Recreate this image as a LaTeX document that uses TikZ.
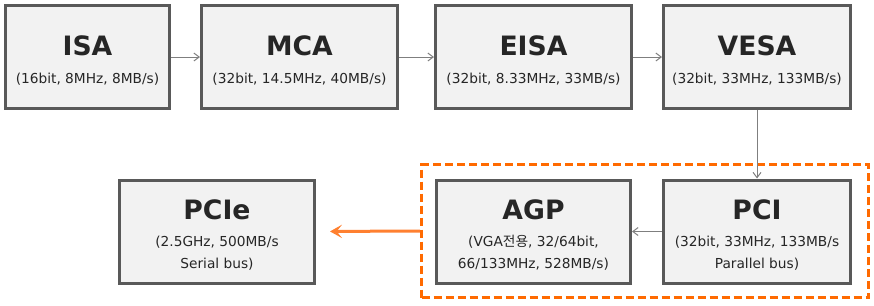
\documentclass[tikz,border=0pt]{standalone}
\usepackage{fontspec}
\setmainfont{DejaVu Sans}
\newfontfamily\krfont{Noto Sans CJK KR}
\usetikzlibrary{arrows.meta,positioning}

\definecolor{boxline}{HTML}{595959}
\definecolor{boxfill}{HTML}{F2F2F2}
\definecolor{boxtext}{HTML}{262626}
\definecolor{linkgray}{HTML}{7F7F7F}
\definecolor{hiorange}{HTML}{FF6A00}
\definecolor{arrorange}{HTML}{FF8030}

\newcommand{\busname}[1]{{\fontsize{20}{22}\selectfont\bfseries\rule{0pt}{20pt}#1}}

\tikzset{
  busbox/.style={draw=boxline, fill=boxfill, line width=2.25pt, text=boxtext,
    align=center, inner sep=0pt, minimum height=103*0.75pt,
    font=\fontsize{10.3}{16.5}\selectfont},
  link/.style={draw=linkgray, line width=0.75pt, -{Straight Barb[length=4pt,width=6pt]}},
  groupbox/.style={draw=hiorange, line width=2.25pt, dash pattern=on 6pt off 3pt,
    inner sep=0pt, minimum width=447*0.75pt, minimum height=133*0.75pt},
  biglink/.style={draw=arrorange, line width=2.25pt,
    -{Stealth[length=9pt,width=10pt,inset=4pt]}, shorten >=10.5pt}
}

\begin{document}
\begin{tikzpicture}[x=0.75pt, y=-0.75pt]
  \useasboundingbox (0,0) rectangle (874,305);
  % top row
  \node[busbox, minimum width=164*0.75pt] (isa) at (87.5,57)
    {\busname{ISA}\\[4pt](16bit, 8MHz, 8MB/s)};
  \node[busbox, minimum width=196*0.75pt] (mca) at (299.5,57)
    {\busname{MCA}\\[4pt](32bit, 14.5MHz, 40MB/s)};
  \node[busbox, minimum width=196*0.75pt] (eisa) at (533.5,57)
    {\busname{EISA}\\[4pt](32bit, 8.33MHz, 33MB/s)};
  \node[busbox, minimum width=187*0.75pt] (vesa) at (757,57)
    {\busname{VESA}\\[4pt](32bit, 33MHz, 133MB/s)};
  % bottom row
  \node[groupbox] (grp) at (645,231) {};
  \node[busbox, minimum width=187*0.75pt] (pci) at (757,231.5)
    {\busname{PCI}\\[4pt](32bit, 33MHz, 133MB/s\\Parallel bus)};
  \node[busbox, minimum width=194*0.75pt] (agp) at (533.5,231.5)
    {\busname{AGP}\\[4pt](VGA{\krfont 전용}, 32/64bit,\\66/133MHz, 528MB/s)};
  \node[busbox, minimum width=195*0.75pt] (pcie) at (217,231.5)
    {\busname{PCIe}\\[4pt](2.5GHz, 500MB/s\\Serial bus)};
  % links
  \draw[link] (isa) -- (mca);
  \draw[link] (mca) -- (eisa);
  \draw[link] (eisa) -- (vesa);
  \draw[link] (vesa) -- (pci);
  \draw[link] (pci) -- (agp);
  \draw[biglink] (grp.west) -- (pcie.east);
\end{tikzpicture}
\end{document}
